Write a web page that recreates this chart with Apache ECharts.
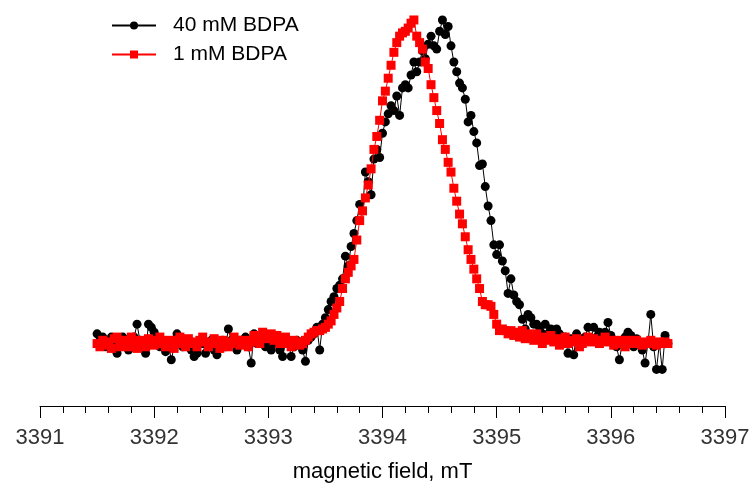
<!DOCTYPE html>
<html><head><meta charset="utf-8">
<script src="https://cdn.jsdelivr.net/npm/echarts@6/dist/echarts.min.js"></script>
<style>html,body{margin:0;padding:0;background:#fff}#c{width:756px;height:488px}</style>
</head><body><div id="c"></div>
<script>
// magnetic field sampling (mT): start and step of the recorded sweep
const fieldStart = 3391.5;
const fieldStep = 0.025;
const xTicks = [3391, 3392, 3393, 3394, 3395, 3396, 3397];
const seriesNames = ['40 mM BDPA', '1 mM BDPA'];
// normalized EPR intensity (peak = 100)
const bdpa40 = [
 3,1,2,-1,0,2,-1,-3,-1,2, 1,-2,0,2,6,1,-1,-3,6,5,
 3.5,0,-1,1,-2.5,0,-5,-1,3,1, -1,1,0,-2,-4,-3,1,0,-3,-1,
 1,-2,-3.5,0,1,-1,4.5,1,0,-2, 1,0,2,-1,-6,3,0,1,0.5,-1,
 1,-2,0,1,-2,-4,0,1,-4,-1, 1,0,-2,-5.5,1,2,3,5,-2,6,
 8,10.5,13,14.5,17,18,20,27,24,30, 34,38,43,41,53,50,46,57,60,57.5,
 65,68.5,71,73.5,72,76.5,70.5,79,80,79, 83,87,84,87,90.5,88,92.5,95,92,91,
 96.5,100,95.5,98,92,87,84,80.5,79,75.5, 68.5,70.5,65.5,62,55,55.5,48.5,42.5,38,30.5,
 27.5,30.5,25.5,22.5,15.5,20,15,13,12,7.5, 4.5,9,8,6,6,5,3,6,3,4.5,
 2,4.5,3,1,2,-3,1.5,-3.5,3,0, 1.5,2,5,1,5,2,3.5,1,3.5,6.5,
 2.5,0,-1,-5,0,2,3.5,2.5,-1,1.5, 0,-2,-6,0,9,-1,-8,0,-8,2.5,
 0
];
const bdpa1 = [
 0,-1,1,-0.5,0.5,-1.5,1.5,2,-1,0.5, 1,-1,2,0,-1.5,1,0.5,-1,1.5,0,
 -0.5,1,2,0,-1,1,0.5,-1.5,1,2, 0,-1,1.5,0.5,0,-1,1,2,0.5,-1,
 0,1.5,0,-1.5,1,0.5,-1,0,2,1, -0.5,0,1,-1,0.5,2.5,1,0,3.5,1.5,
 2,3,1,2.5,0,1,2,0,-1,1, 0.5,-0.5,0,1,2,3,3.5,4,4,4.5,
 5,6,7,9,11,13,17,20,22,24, 26,32,38,41,45,49,54,60,64,69,
 75,78,82,86,90,93,95,96,96.5,97.5, 99,100,95,93,91,87,85,80,76,72,
 68,63,60,56,53,48,44,40,37,33, 29,26,23,20,17,13,12,12,11.5,9,
 6,4,4.5,4,3,4,2.5,3.5,2,4, 1.5,3,2,1,3,1.5,0,2,1,2.5,
 0.5,1.5,-0.5,1,2,0,1,0.5,1.5,-1, 0,1,2,0.5,1.5,1,0,1,2,0.5,
 1,-0.5,0,1,0.5,-1,1,0,0.5,1, 0,-0.5,0.5,0,1,0,-0.5,0.5,0,0.5,
 0
];
const toPairs = arr => arr.map((v, i) => [+(fieldStart + i * fieldStep).toFixed(3), v]);

const chart = echarts.init(document.getElementById('c'), null, {renderer: 'canvas'});
chart.setOption({
  animation: false,
  backgroundColor: '#fff',
  grid: {left: 40, right: 31, top: 8, bottom: 78, containLabel: false},
  legend: {
    orient: 'vertical', left: 111, top: 15, padding: 0, itemWidth: 44, itemHeight: 10, itemGap: 8,
    textStyle: {fontFamily: 'Liberation Sans, Arial', fontSize: 21, color: '#000', padding: [0, 0, 0, 12]},
    data: seriesNames
  },
  xAxis: {
    type: 'value', min: xTicks[0], max: xTicks[xTicks.length - 1], interval: 1,
    name: 'magnetic field, mT', nameLocation: 'middle', nameGap: 55,
    nameTextStyle: {fontFamily: 'Liberation Sans, Arial', fontSize: 22, color: '#000'},
    axisLine: {show: true, onZero: false, lineStyle: {color: '#000', width: 1}},
    axisTick: {show: true, length: 12, lineStyle: {color: '#000'}},
    minorTick: {show: true, splitNumber: 5, length: 7, lineStyle: {color: '#000'}},
    axisLabel: {fontFamily: 'Liberation Sans, Arial', fontSize: 22, color: '#333', margin: 21,
                formatter: v => String(v)},
    splitLine: {show: false}
  },
  yAxis: {type: 'value', min: -19.3, max: 103.7, show: false, splitLine: {show: false}},
  series: [
    {name: seriesNames[0], type: 'line', data: toPairs(bdpa40), symbol: 'circle', symbolSize: 9,
     itemStyle: {color: '#000'}, lineStyle: {color: '#000', width: 1}, z: 2},
    {name: seriesNames[1], type: 'line', data: toPairs(bdpa1), symbol: 'rect', symbolSize: 9,
     itemStyle: {color: '#ff0000'}, lineStyle: {color: '#ff0000', width: 1}, z: 3}
  ]
});
</script></body></html>
